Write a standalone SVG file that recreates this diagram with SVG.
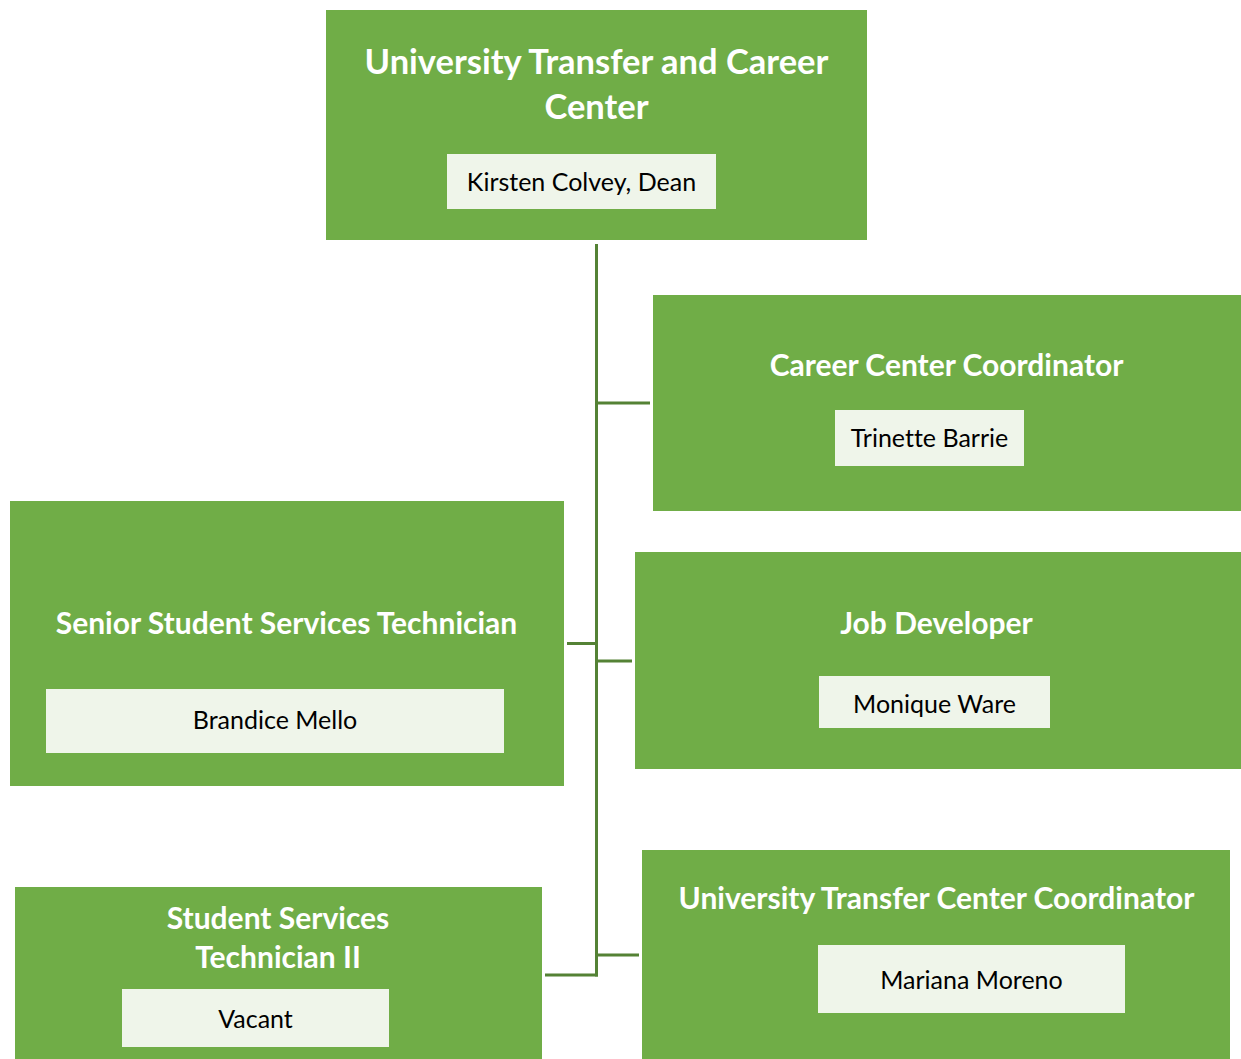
<svg xmlns="http://www.w3.org/2000/svg" width="1241" height="1059" viewBox="0 0 1241 1059">
<style>
.box{fill:#70AD47;}
.name{fill:#EFF5EA;}
.t{font-family:Lato,"Liberation Sans",sans-serif;font-weight:bold;fill:#FFFFFF;text-anchor:middle;font-variant-ligatures:none;}
.n{font-family:Lato,"Liberation Sans",sans-serif;font-size:25px;fill:#000000;text-anchor:middle;font-variant-ligatures:none;}
.c{stroke:#548235;stroke-width:3;fill:none;}
</style>
<rect width="1241" height="1059" fill="#FFFFFF"/>
<g id="connectors">
<line class="c" x1="596.5" y1="244" x2="596.5" y2="976.5"/>
<line class="c" x1="596.5" y1="403" x2="650" y2="403"/>
<line class="c" x1="567" y1="643.5" x2="596.5" y2="643.5"/>
<line class="c" x1="596.5" y1="661" x2="632" y2="661"/>
<line class="c" x1="596.5" y1="955" x2="639" y2="955"/>
<line class="c" x1="545" y1="975" x2="598" y2="975"/>
</g>
<g id="dean">
<rect class="box" x="326" y="10" width="541" height="230"/>
<text class="t" x="596.5" y="74" font-size="34.5">University Transfer and Career</text>
<text class="t" x="596.5" y="119" font-size="34.5">Center</text>
<rect class="name" x="447" y="154" width="269" height="55"/>
<text class="n" x="581.5" y="191">Kirsten Colvey, Dean</text>
</g>
<g id="career">
<rect class="box" x="653" y="295" width="588" height="216"/>
<text class="t" x="946.5" y="376" font-size="30">Career Center Coordinator</text>
<rect class="name" x="835" y="410" width="189" height="56"/>
<text class="n" x="929.5" y="447">Trinette Barrie</text>
</g>
<g id="job">
<rect class="box" x="635" y="552" width="606" height="217"/>
<text class="t" x="936.5" y="634" font-size="30">Job Developer</text>
<rect class="name" x="819" y="676" width="231" height="52"/>
<text class="n" x="934.5" y="713">Monique Ware</text>
</g>
<g id="senior">
<rect class="box" x="10" y="501" width="554" height="285"/>
<text class="t" x="286.5" y="634" font-size="30">Senior Student Services Technician</text>
<rect class="name" x="46" y="689" width="458" height="64"/>
<text class="n" x="275" y="729">Brandice Mello</text>
</g>
<g id="utc">
<rect class="box" x="642" y="850" width="588" height="209"/>
<text class="t" x="936.5" y="909" font-size="30">University Transfer Center Coordinator</text>
<rect class="name" x="818" y="945" width="307" height="68"/>
<text class="n" x="971.5" y="989">Mariana Moreno</text>
</g>
<g id="sst2">
<rect class="box" x="15" y="887" width="527" height="172"/>
<text class="t" x="278" y="929" font-size="30">Student Services</text>
<text class="t" x="278" y="968" font-size="30">Technician II</text>
<rect class="name" x="122" y="989" width="267" height="58"/>
<text class="n" x="255.5" y="1028">Vacant</text>
</g>
</svg>
